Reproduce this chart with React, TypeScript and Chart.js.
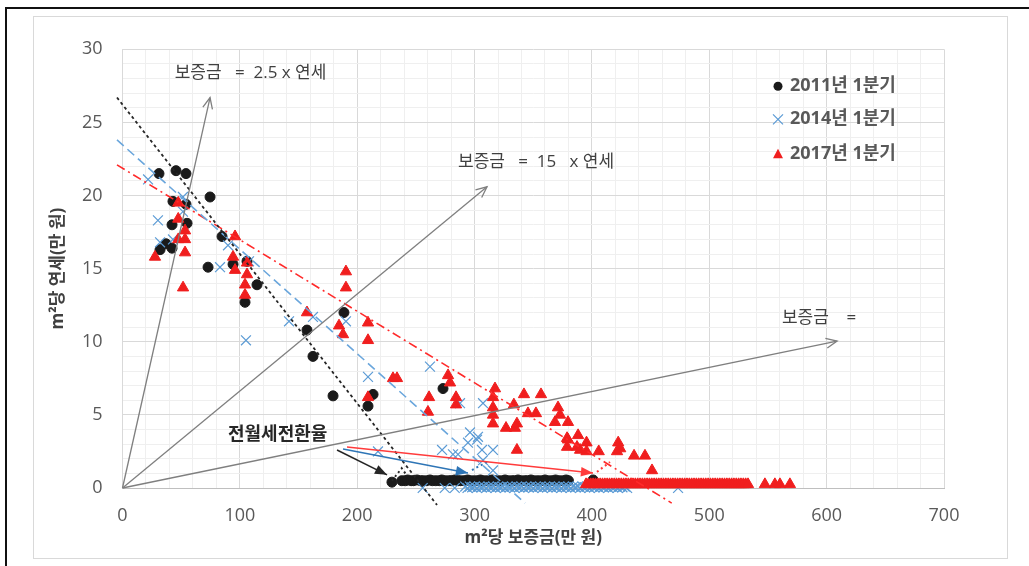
import React, { useEffect, useRef } from 'react';
import { Chart, registerables } from 'chart.js';

Chart.register(...registerables);

// ---------- data ----------
const xTickLabels = ['0', '100', '200', '300', '400', '500', '600', '700'];
const yTickLabels = ['0', '5', '10', '15', '20', '25', '30'];

const seriesNames = ['2011년 1분기', '2014년 1분기', '2017년 1분기'];

const q2011: [number, number][] = [
  [31.1, 21.5], [45.6, 21.7], [54.1, 21.5], [74.6, 19.9], [43.0, 19.6], [54.1, 19.4],
  [42.2, 18.0], [55.0, 18.1], [37.1, 16.7], [32.0, 16.3], [42.2, 16.4], [84.8, 17.2],
  [72.9, 15.1], [94.2, 15.3], [106.1, 15.5], [114.6, 13.9], [104.4, 12.7], [188.7, 12.0],
  [157.2, 10.8], [162.3, 9.0], [179.4, 6.3], [213.5, 6.4], [209.2, 5.6], [273.1, 6.8],
  [229.6, 0.4],
  [238, 0.5], [241, 0.5], [243, 0.55], [246, 0.5], [248, 0.5], [251, 0.55], [254, 0.5],
  [256, 0.5], [259, 0.5], [262, 0.55], [264, 0.5], [267, 0.5], [270, 0.5], [272, 0.55],
  [275, 0.5], [278, 0.5], [280, 0.5], [283, 0.55], [286, 0.5], [288, 0.5], [291, 0.5],
  [294, 0.55], [296, 0.5], [299, 0.5], [302, 0.5], [305, 0.55], [307, 0.5], [310, 0.5],
  [313, 0.5], [315, 0.55], [318, 0.5], [321, 0.5], [324, 0.5], [326, 0.55], [329, 0.5],
  [332, 0.5], [334, 0.5], [337, 0.55], [340, 0.5], [343, 0.5], [345, 0.5], [348, 0.55],
  [351, 0.5], [354, 0.5], [357, 0.5], [360, 0.55], [363, 0.5], [366, 0.5], [369, 0.55],
  [372, 0.5], [375, 0.5], [378, 0.55], [380, 0.5], [401, 0.55],
];

const q2014: [number, number][] = [
  [21.8, 21.1], [51.5, 19.9], [30.2, 18.3], [51.5, 18.9], [32.0, 16.8], [43.0, 17.0],
  [89.9, 16.6], [83.1, 15.1], [107.8, 15.5], [141.9, 11.4], [162.3, 11.7], [105.2, 10.1],
  [190.4, 11.4], [209.2, 7.6], [262.0, 8.3], [287.6, 5.8], [307.2, 5.8], [296.1, 3.8],
  [302.1, 3.3], [294.4, 3.1], [315.7, 2.6], [272.3, 2.6], [285.9, 2.3], [306.3, 2.6],
  [307.2, 1.9], [315.7, 1.2], [217.7, 2.5], [281.6, 2.3], [302.9, 3.5], [255.8, 0.0],
  [274.6, 0.0], [283.1, 0.0], [473.4, 0.0],
  [292, 0.1], [294, 0.0], [296, 0.1], [298, 0.05], [300, 0.1], [302, 0.0], [304, 0.1],
  [306, 0.05], [308, 0.1], [310, 0.0], [312, 0.1], [314, 0.05], [316, 0.1], [318, 0.0],
  [320, 0.1], [322, 0.05], [324, 0.1], [326, 0.0], [328, 0.1], [330, 0.05], [332, 0.1],
  [334, 0.0], [336, 0.1], [338, 0.05], [340, 0.1], [342, 0.0], [344, 0.1], [346, 0.05],
  [348, 0.1], [350, 0.0], [352, 0.1], [354, 0.05], [356, 0.1], [358, 0.0], [360, 0.1],
  [362, 0.05], [364, 0.1], [366, 0.0], [368, 0.1], [370, 0.05], [372, 0.1], [374, 0.0],
  [376, 0.1], [378, 0.05], [380, 0.1], [382, 0.0], [384, 0.1], [386, 0.05], [388, 0.1],
  [390, 0.0], [392, 0.1], [394, 0.05], [396, 0.1], [398, 0.0], [400, 0.1], [402, 0.05],
  [404, 0.1], [406, 0.0], [408, 0.1], [410, 0.05], [412, 0.1], [414, 0.0], [416, 0.1],
  [418, 0.05], [420, 0.1], [422, 0.0], [424, 0.1], [426, 0.05], [428, 0.1], [430, 0.0],
];

const q2017: [number, number][] = [
  [47.5, 19.5], [47.5, 18.4], [53.3, 17.6], [47.5, 17.0], [53.3, 17.0], [53.3, 16.1],
  [27.7, 15.8], [51.6, 13.7], [95.9, 17.2], [94.2, 15.8], [95.9, 14.9], [106.1, 15.4],
  [106.1, 14.6], [104.4, 13.9], [104.4, 13.2], [190.4, 14.8], [190.4, 13.7], [157.2, 12.0],
  [209.2, 11.3], [184.5, 11.1], [187.9, 10.5], [209.2, 10.1], [230.5, 7.5], [233.9, 7.5],
  [209.2, 6.2], [277.4, 7.7], [279.1, 7.2], [261.2, 6.2], [260.3, 5.2], [284.2, 6.2],
  [284.2, 5.7], [317.4, 6.8], [315.7, 6.2], [315.7, 5.5], [315.7, 5.0], [315.7, 4.4],
  [326.8, 4.1], [334.4, 4.1], [336.1, 4.4], [336.1, 2.6], [333.5, 5.7], [342.1, 6.4],
  [356.6, 6.4], [345.5, 5.1], [352.3, 5.1], [371.1, 5.5], [372.8, 5.0], [368.5, 4.5],
  [379.6, 4.5], [378.8, 3.4], [378.8, 2.8], [387.3, 2.8], [388.2, 3.6], [379.6, 3.3],
  [395.4, 3.1], [389.9, 2.6], [395.4, 2.5], [405.8, 2.5], [422.4, 3.1], [424.1, 2.7],
  [421.4, 2.5], [435.9, 2.2], [445.2, 2.2], [451.2, 1.2],
  [395, 0.25], [397, 0.25], [399, 0.25], [401, 0.25], [403, 0.25], [405, 0.25], [407, 0.25],
  [409, 0.25], [411, 0.25], [413, 0.25], [415, 0.25], [417, 0.25], [419, 0.25], [421, 0.25],
  [423, 0.25], [425, 0.25], [427, 0.25], [429, 0.25], [431, 0.25], [433, 0.25], [435, 0.25],
  [437, 0.25], [439, 0.25], [441, 0.25], [443, 0.25], [445, 0.25], [447, 0.25], [449, 0.25],
  [451, 0.25], [453, 0.25], [455, 0.25], [457, 0.25], [459, 0.25], [461, 0.25], [463, 0.25],
  [465, 0.25], [467, 0.25], [469, 0.25], [471, 0.25], [473, 0.25], [475, 0.25], [477, 0.25],
  [479, 0.25], [481, 0.25], [483, 0.25], [485, 0.25], [487, 0.25], [489, 0.25], [491, 0.25],
  [493, 0.25], [495, 0.25], [497, 0.25], [499, 0.25], [501, 0.25], [503, 0.25], [505, 0.25],
  [507, 0.25], [509, 0.25], [511, 0.25], [513, 0.25], [515, 0.25], [517, 0.25], [519, 0.25],
  [521, 0.25], [523, 0.25], [525, 0.25], [527, 0.25], [529, 0.25], [531, 0.25], [533, 0.25],
  [547.4, 0.25], [555.9, 0.25], [560.2, 0.25], [568.7, 0.25],
];

// linear trend lines (end points)
const trend2011: [number, number][] = [[-4.7, 26.7], [268, -1.16]];
const trend2014: [number, number][] = [[-4.7, 23.8], [343, -1.03]];
const trend2017: [number, number][] = [[-4.7, 22.1], [468, -1.03]];

// guide arrows from the origin
const guide25: [number, number][] = [[0, 0], [74.6, 26.7]];
const guide15: [number, number][] = [[0, 0], [310.6, 20.6]];
const guideN: [number, number][] = [[0, 0], [608.9, 10.05]];

// 전월세전환율 arrows
const conv2011: [number, number][] = [[182.8, 2.6], [225.4, 0.9]];
const conv2014: [number, number][] = [[187.9, 2.67], [294.4, 1.03]];
const conv2017: [number, number][] = [[191.3, 2.8], [400.9, 1.03]];
const dot2011: [number, number][] = [[229.6, 0.5], [237.9, 1.35], [241, 1.0]];
const dot2014: [number, number][] = [[297.8, 1.23], [310.6, 1.78]];
const dot2017: [number, number][] = [[404.3, 1.1], [415.4, 1.78]];

const noteTexts = [
  { text: '보증금   =  2.5 x 연세', x: 44.5, y: 28.4, bold: false },
  { text: '보증금   =  15   x 연세', x: 285.9, y: 22.3, bold: false },
  { text: '보증금    =', x: 561.9, y: 11.63, bold: false },
  { text: '전월세전환율', x: 89.9, y: 3.63, bold: true },
];

// ---------- styles ----------
const FONT = "'Open Sans', 'Noto Sans CJK KR', sans-serif";
const C2011 = '#1a1a1a';
const C2014 = '#5b9bd5';
const C2017 = '#f01e1e';
const GUIDE = '#7f7f7f';

const toPts = (a: [number, number][]) => a.map(([x, y]) => ({ x, y }));

const overlayPlugin = {
  id: 'overlay',
  afterDatasetsDraw(chart: any) {
    const ctx: CanvasRenderingContext2D = chart.ctx;
    const xs = chart.scales.x;
    const ys = chart.scales.y;
    // arrow heads
    chart.data.datasets.forEach((ds: any, i: number) => {
      if (!ds.arrowHead) return;
      const pts = chart.getDatasetMeta(i).data;
      const a = pts[pts.length - 2];
      const b = pts[pts.length - 1];
      const ang = Math.atan2(b.y - a.y, b.x - a.x);
      const L = ds.arrowHead === 'open' ? 12 : 13;
      const W = ds.arrowHead === 'open' ? 0.42 : 0.38;
      ctx.save();
      ctx.setLineDash([]);
      ctx.strokeStyle = ds.borderColor;
      ctx.fillStyle = ds.borderColor;
      ctx.lineWidth = ds.borderWidth;
      ctx.beginPath();
      ctx.moveTo(b.x - L * Math.cos(ang - W), b.y - L * Math.sin(ang - W));
      ctx.lineTo(b.x, b.y);
      ctx.lineTo(b.x - L * Math.cos(ang + W), b.y - L * Math.sin(ang + W));
      if (ds.arrowHead === 'filled') {
        ctx.closePath();
        ctx.fill();
      } else {
        ctx.stroke();
      }
      ctx.restore();
    });
    // annotation texts
    ctx.save();
    ctx.textBaseline = 'middle';
    ctx.textAlign = 'left';
    noteTexts.forEach((n) => {
      ctx.font = `${n.bold ? 'bold 18px' : '17px'} ${FONT}`;
      ctx.fillStyle = n.bold ? '#262626' : '#404040';
      ctx.fillText(n.text, xs.getPixelForValue(n.x), ys.getPixelForValue(n.y));
    });
    ctx.restore();
    // legend
    const area = chart.chartArea;
    const mx = area.right - 166;
    const tx = area.right - 154;
    const rows = [area.top + 37, area.top + 70, area.top + 105];
    ctx.save();
    ctx.font = `bold 18px ${FONT}`;
    ctx.textBaseline = 'middle';
    ctx.textAlign = 'left';
    seriesNames.forEach((name, i) => {
      const y = rows[i];
      ctx.beginPath();
      if (i === 0) {
        ctx.fillStyle = C2011;
        ctx.arc(mx, y, 4.5, 0, Math.PI * 2);
        ctx.fill();
      } else if (i === 1) {
        ctx.strokeStyle = C2014;
        ctx.lineWidth = 1.2;
        ctx.moveTo(mx - 5, y - 5);
        ctx.lineTo(mx + 5, y + 5);
        ctx.moveTo(mx + 5, y - 5);
        ctx.lineTo(mx - 5, y + 5);
        ctx.stroke();
      } else {
        ctx.fillStyle = C2017;
        ctx.moveTo(mx, y - 5.5);
        ctx.lineTo(mx + 5, y + 4);
        ctx.lineTo(mx - 5, y + 4);
        ctx.closePath();
        ctx.fill();
      }
      ctx.fillStyle = '#595959';
      ctx.fillText(name, tx, y);
    });
    ctx.restore();
  },
};

export default function App() {
  const ref = useRef<HTMLCanvasElement | null>(null);

  useEffect(() => {
    if (!ref.current) return;
    Chart.defaults.font.family = FONT;

    const lineDs = (label: string, pts: [number, number][], color: string, width: number, dash: number[], order: number, arrowHead?: string) => ({
      type: 'line' as const,
      label,
      data: toPts(pts),
      borderColor: color,
      backgroundColor: color,
      borderWidth: width,
      borderDash: dash,
      pointRadius: 0,
      showLine: true,
      fill: false,
      clip: false as const,
      order,
      arrowHead,
    });

    const chart = new Chart(ref.current, {
      type: 'scatter',
      data: {
        datasets: [
          lineDs('guide25', guide25, GUIDE, 1.3, [], 0, 'open'),
          lineDs('guide15', guide15, GUIDE, 1.3, [], 0, 'open'),
          lineDs('guideN', guideN, GUIDE, 1.3, [], 0, 'open'),
          lineDs('conv2011', conv2011, '#262626', 1.5, [], 0, 'filled'),
          lineDs('conv2014', conv2014, '#2e75b6', 1.5, [], 0, 'filled'),
          lineDs('conv2017', conv2017, '#ff3b3b', 1.5, [], 0, 'filled'),
          lineDs('dot2011', dot2011, '#262626', 2, [2, 3], 0),
          lineDs('dot2014', dot2014, '#2e75b6', 2, [2, 3], 0),
          lineDs('dot2017', dot2017, '#ff3b3b', 2, [2, 3], 0),
          lineDs('trend2011', trend2011, '#262626', 1.8, [3, 3], 1),
          lineDs('trend2014', trend2014, '#6aa6dc', 1.6, [9, 5], 1),
          lineDs('trend2017', trend2017, '#ff2a2a', 1.6, [9, 4, 2, 4], 1),
          {
            label: seriesNames[2],
            data: toPts(q2017),
            pointStyle: 'triangle',
            pointRadius: 6.5,
            backgroundColor: C2017,
            borderColor: C2017,
            borderWidth: 1,
            clip: false,
            order: 2,
          },
          {
            label: seriesNames[1],
            data: toPts(q2014),
            pointStyle: 'crossRot',
            pointRadius: 7,
            backgroundColor: C2014,
            borderColor: C2014,
            borderWidth: 1.2,
            clip: false,
            order: 3,
          },
          {
            label: seriesNames[0],
            data: toPts(q2011),
            pointStyle: 'circle',
            pointRadius: 5,
            backgroundColor: C2011,
            borderColor: C2011,
            borderWidth: 1,
            clip: false,
            order: 4,
          },
        ] as any,
      },
      options: {
        responsive: false,
        animation: false,
        devicePixelRatio: 1,
        events: [],
        layout: { padding: { left: 47.8, right: 85, top: 49.3, bottom: 17.8 } },
        plugins: { legend: { display: false }, tooltip: { enabled: false } },
        scales: {
          x: {
            type: 'linear',
            min: 0,
            max: 700,
            afterFit: (s: any) => { s.height = 60.2; },
            ticks: {
              stepSize: 20,
              autoSkip: false,
              maxRotation: 0,
              padding: 17,
              color: '#595959',
              font: { size: 18, family: FONT },
              callback: (v: any) => (xTickLabels.includes(String(v)) ? String(v) : ''),
            },
            grid: {
              drawTicks: false,
              color: (c: any) => (c.tick && c.tick.value % 100 === 0 ? '#d9d9d9' : '#efefef'),
              lineWidth: 1,
            },
            border: { color: '#bfbfbf' },
            title: {
              display: true,
              text: 'm²당 보증금(만 원)',
              padding: 0,
              color: '#404040',
              font: { size: 17, weight: 'bold', family: FONT },
            },
          },
          y: {
            type: 'linear',
            min: 0,
            max: 30,
            afterFit: (s: any) => { s.width = 74.7; },
            ticks: {
              stepSize: 1,
              autoSkip: false,
              padding: 20,
              color: '#595959',
              font: { size: 18, family: FONT },
              callback: (v: any) => (yTickLabels.includes(String(v)) ? String(v) : ''),
            },
            grid: {
              drawTicks: false,
              color: (c: any) => (c.tick && c.tick.value % 5 === 0 ? '#d9d9d9' : '#efefef'),
              lineWidth: 1,
            },
            border: { color: '#d9d9d9' },
            title: {
              display: true,
              text: 'm²당 연세(만 원)',
              padding: 0,
              color: '#404040',
              font: { size: 17, weight: 'bold', family: FONT },
            },
          },
        },
      } as any,
      plugins: [overlayPlugin],
    });
    return () => chart.destroy();
  }, []);

  return (
    <div style={{ position: 'fixed', left: 0, top: 0, width: 1029, height: 566, background: '#fff', overflow: 'hidden' }}>
      <div style={{ position: 'absolute', left: 5, top: 7, width: 1024, height: 2, background: '#111' }} />
      <div style={{ position: 'absolute', left: 5, top: 7, width: 2, height: 559, background: '#111' }} />
      <div style={{ position: 'absolute', left: 33, top: 16, width: 975, height: 543, border: '1px solid #d9d9d9', boxSizing: 'border-box' }} />
      <canvas ref={ref} width={1029} height={566} style={{ position: 'absolute', left: 0, top: 0, width: 1029, height: 566 }} />
    </div>
  );
}
